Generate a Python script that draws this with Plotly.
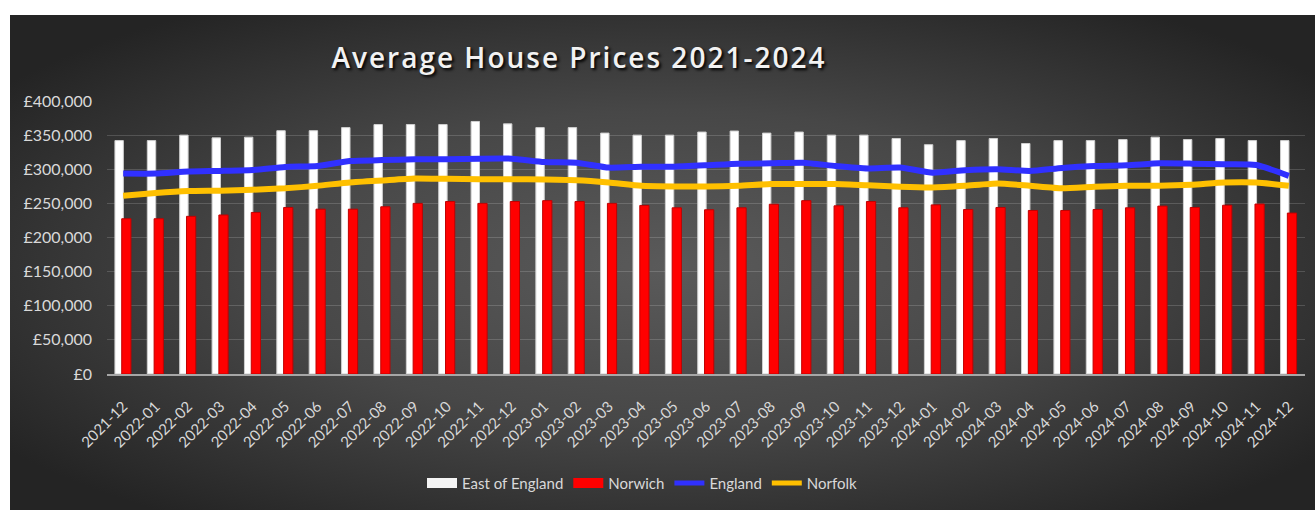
import base64
import plotly.graph_objects as go

months = ["2021-12", "2022-01", "2022-02", "2022-03", "2022-04", "2022-05", "2022-06",
          "2022-07", "2022-08", "2022-09", "2022-10", "2022-11", "2022-12", "2023-01",
          "2023-02", "2023-03", "2023-04", "2023-05", "2023-06", "2023-07", "2023-08",
          "2023-09", "2023-10", "2023-11", "2023-12", "2024-01", "2024-02", "2024-03",
          "2024-04", "2024-05", "2024-06", "2024-07", "2024-08", "2024-09", "2024-10",
          "2024-11", "2024-12"]

east_of_england = [342000, 342000, 350000, 346000, 347000, 356500, 356500, 361000, 365500,
                   365500, 365500, 370000, 366500, 361000, 361000, 353000, 350000, 350000,
                   354500, 356000, 353000, 354500, 350000, 350000, 345000, 336000, 342000,
                   345000, 337700, 342000, 342000, 343500, 347000, 343500, 345000, 342000,
                   342000]

norwich = [227500, 227500, 231000, 233000, 236700, 244000, 241500, 241500, 245000, 250000,
           252700, 250000, 252700, 254000, 252700, 250000, 247000, 243500, 240600, 243500,
           248700, 254000, 246400, 252700, 243500, 247800, 241000, 244000, 239600, 239600,
           241000, 243500, 246000, 244000, 247300, 249000, 235800]

england = [293700, 293700, 296600, 297600, 299000, 303400, 304800, 312000, 313500, 314500,
           314800, 315500, 315500, 310600, 309600, 302400, 303800, 303800, 305800, 308200,
           308700, 309600, 304800, 301200, 302400, 295000, 298600, 300000, 297600, 302000,
           304800, 305800, 308700, 308200, 307200, 306300, 290300]

norfolk = [261300, 265200, 268000, 268600, 270000, 272000, 275800, 280700, 283600, 286400,
           285900, 285500, 285500, 285000, 284000, 280600, 275800, 274800, 274800, 275800,
           278300, 278300, 278300, 276500, 274400, 273400, 275800, 279200, 275800, 272000,
           274400, 275800, 275800, 277300, 280600, 280600, 275800]

y_ticks = [0, 50000, 100000, 150000, 200000, 250000, 300000, 350000, 400000]
y_tick_labels = ["£0", "£50,000", "£100,000", "£150,000", "£200,000", "£250,000",
                 "£300,000", "£350,000", "£400,000"]

FONT = "Lato, 'Open Sans', sans-serif"
TXT = "#d9d9d9"
EDGE = "#242424"

svg = """<svg xmlns='http://www.w3.org/2000/svg' width='1320' height='510' viewBox='0 0 1320 510' preserveAspectRatio='none'>
<defs><radialGradient id='g' cx='0.5' cy='0.5' r='0.62' fx='0.5' fy='0.5'>
<stop offset='0' stop-color='#5a5a5a'/><stop offset='0.5' stop-color='#474747'/>
<stop offset='1' stop-color='#242424'/></radialGradient></defs>
<rect x='0' y='0' width='1320' height='510' fill='url(#g)'/></svg>"""
bg_uri = "data:image/svg+xml;base64," + base64.b64encode(svg.encode()).decode()

fig = go.Figure()
fig.add_trace(go.Bar(
    x=months, y=east_of_england, name="East of England", showlegend=False,
    marker=dict(color="#ffffff", line=dict(color="#cfcfcf", width=1)),
    offset=-0.255, width=0.26,
))
fig.add_trace(go.Bar(
    x=months, y=norwich, name="Norwich", showlegend=False,
    marker=dict(color="#ff0000", line=dict(color="#c00000", width=1)),
    offset=-0.045, width=0.285,
))
fig.add_trace(go.Scatter(
    x=months, y=england, name="England", mode="lines", showlegend=False,
    line=dict(color="#3030ff", width=6, shape="spline", smoothing=0.5),
))
fig.add_trace(go.Scatter(
    x=months, y=norfolk, name="Norfolk", mode="lines", showlegend=False,
    line=dict(color="#ffc000", width=6, shape="spline", smoothing=0.5),
))

# legend-only entries (wide rectangular swatches like the original)
legend_items = [("East of England", "#f4f4f4", 12), ("Norwich", "#ff0000", 12),
                ("England", "#3030ff", 5), ("Norfolk", "#ffc000", 5)]
for name, color, w in legend_items:
    fig.add_trace(go.Scatter(
        x=[None], y=[None], mode="lines", name=name,
        line=dict(color=color, width=w), showlegend=True, hoverinfo="skip",
    ))

px_x = lambda px: (px - 107) / 1198
px_y = lambda py: (377 - py) / 276

fig.update_layout(
    width=1315, height=510,
    barmode="overlay",
    paper_bgcolor=EDGE,
    plot_bgcolor="rgba(0,0,0,0)",
    margin=dict(l=107, r=10, t=101, b=133),
    font=dict(family=FONT, color=TXT, size=15),
    title=dict(
        text="Average House Prices 2021-2024",
        x=579 / 1315, xanchor="center",
        y=1 - 58 / 510, yanchor="middle",
        font=dict(family="'Open Sans', sans-serif", size=28, color="#f2f2f2",
                  weight=600, shadow="2px 2px 3px #000000"),
    ),
    showlegend=True,
    legend=dict(
        orientation="h", x=0.447, xanchor="center", y=-0.40, yanchor="middle",
        font=dict(family=FONT, size=15, color=TXT),
        bgcolor="rgba(0,0,0,0)", itemwidth=30, traceorder="normal",
    ),
    images=[dict(
        source=bg_uri, xref="paper", yref="paper",
        x=px_x(10), y=px_y(14),
        sizex=1320 / 1198, sizey=510 / 276,
        sizing="stretch", xanchor="left", yanchor="top", layer="below",
    )],
    shapes=[
        dict(type="rect", xref="paper", yref="paper", layer="below",
             x0=px_x(-5), x1=px_x(1320), y0=px_y(14), y1=px_y(-5),
             fillcolor="#ffffff", line=dict(width=0)),
        dict(type="rect", xref="paper", yref="paper", layer="below",
             x0=px_x(-5), x1=px_x(10), y0=px_y(520), y1=px_y(14),
             fillcolor="#ffffff", line=dict(width=0)),
    ],
)

fig.update_xaxes(
    type="category", tickangle=-45, showgrid=False,
    showline=True, linecolor="#a6a6a6", linewidth=1.5,
    tickfont=dict(family=FONT, size=15, color=TXT),
    ticks="", ticklabelstandoff=16, range=[-0.5, len(months) - 0.5],
)
fig.update_yaxes(
    range=[0, 400000], tickvals=y_ticks, ticktext=y_tick_labels,
    showgrid=True, gridcolor="rgba(255,255,255,0.16)", gridwidth=1,
    zeroline=False, showline=False, ticks="", ticklabelstandoff=14,
    tickfont=dict(family=FONT, size=16, color=TXT),
)

post = ("document.querySelectorAll('.gtitle').forEach(function(e){"
        "e.style.letterSpacing='2px';});"
        "document.documentElement.style.margin='0';document.documentElement.style.padding='0';"
        "document.documentElement.style.overflow='hidden';"
        "document.body.style.margin='0';document.body.style.padding='0';"
        "document.body.style.overflow='hidden';")
fig.write_html("out.html", post_script=post)
